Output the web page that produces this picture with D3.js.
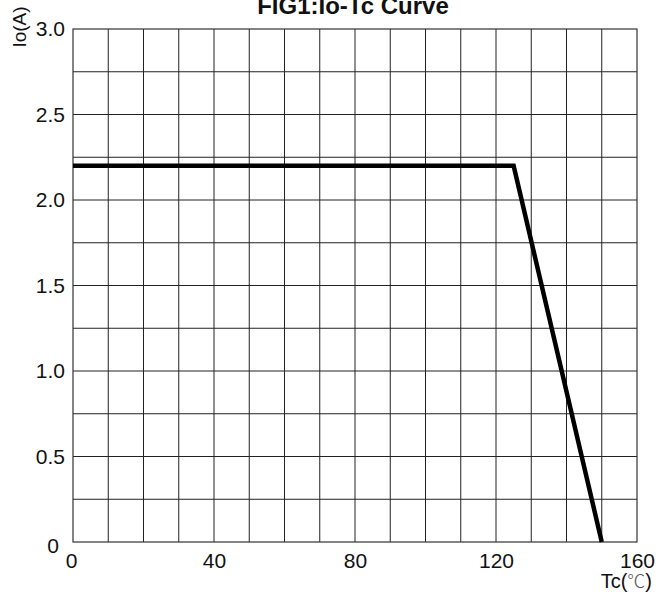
<!DOCTYPE html>
<html>
<head>
<meta charset="utf-8">
<script src="https://cdn.jsdelivr.net/npm/d3@7"></script>
<style>
  body { margin: 0; background: #fff; }
  text { font-family: "Liberation Sans", Arial, sans-serif; fill: #111; }
</style>
</head>
<body>
<script>
// curve points
let tempC = [0, 125, 150];
let currentA = [2.2, 2.2, 0];

let xTicks = [0, 40, 80, 120, 160];
let yTicks = [0, 0.5, 1.0, 1.5, 2.0, 2.5, 3.0];

let margin = {top: 29, left: 73, bottom: 52, right: 24},
    width = 661 - margin.left - margin.right,
    height = 594 - margin.top - margin.bottom;

let svg = d3.select("body").append("svg")
  .attr("width", 661)
  .attr("height", 594);

let g = svg.append("g")
  .attr("transform", `translate(${margin.left}, ${margin.top})`);

let x = d3.scaleLinear().domain([0, 160]).range([0, width]);
let y = d3.scaleLinear().domain([0, 3]).range([height, 0]);

// grid
g.append("g")
  .selectAll("line")
  .data(d3.range(10, 160, 10))
  .join("line")
  .attr("x1", d => x(d)).attr("x2", d => x(d))
  .attr("y1", 0).attr("y2", height)
  .attr("stroke", "#222").attr("stroke-width", 1);

g.append("g")
  .selectAll("line")
  .data(d3.range(0.25, 3, 0.25))
  .join("line")
  .attr("x1", 0).attr("x2", width)
  .attr("y1", d => y(d)).attr("y2", d => y(d))
  .attr("stroke", "#222").attr("stroke-width", 1);

g.append("rect")
  .attr("width", width).attr("height", height)
  .attr("fill", "none").attr("stroke", "#333").attr("stroke-width", 1.2);

// axes (labels only)
let xAxis = g.append("g")
  .attr("transform", `translate(0, ${height})`)
  .call(d3.axisBottom(x).tickValues(xTicks).tickSize(0).tickPadding(11));
xAxis.select(".domain").remove();
xAxis.selectAll("text")
  .attr("font-size", 21).attr("fill", "#111")
  .style("font-family", "'Liberation Sans', Arial, sans-serif");
xAxis.selectAll(".tick").filter(d => d === 0).select("text").attr("dx", -2);

let yAxis = g.append("g")
  .call(d3.axisLeft(y).tickValues(yTicks).tickSize(0).tickPadding(8)
    .tickFormat(d => d === 0 ? "0" : d3.format(".1f")(d)));
yAxis.select(".domain").remove();
yAxis.selectAll("text")
  .attr("font-size", 21).attr("fill", "#111")
  .style("font-family", "'Liberation Sans', Arial, sans-serif");
yAxis.selectAll(".tick").filter(d => d === 0).select("text")
  .attr("x", -14).attr("dy", "0.5em");

// curve
let line = d3.line()
  .x((d, i) => x(tempC[i]))
  .y((d, i) => y(currentA[i]));

g.append("path")
  .datum(tempC)
  .attr("d", line)
  .attr("fill", "none")
  .attr("stroke", "#000")
  .attr("stroke-width", 4.5)
  .attr("stroke-linejoin", "miter");

// titles
svg.append("text")
  .attr("x", margin.left + width / 2 - 2)
  .attr("y", 14)
  .attr("text-anchor", "middle")
  .attr("font-size", 24)
  .attr("font-weight", "bold")
  .text("FIG1:Io-Tc Curve");

svg.append("text")
  .attr("transform", "translate(26, 27) rotate(-90)")
  .attr("text-anchor", "middle")
  .attr("font-size", 19)
  .text("Io(A)");

let xt = svg.append("text")
  .attr("x", 652)
  .attr("y", 588)
  .attr("text-anchor", "end")
  .attr("font-size", 20);
xt.append("tspan").text("Tc(");
xt.append("tspan")
  .style("font-family", "'Noto Sans CJK SC', sans-serif")
  .attr("font-size", 18)
  .attr("font-weight", 300)
  .attr("fill", "#555")
  .text("℃");
xt.append("tspan").text(")");
</script>
</body>
</html>
